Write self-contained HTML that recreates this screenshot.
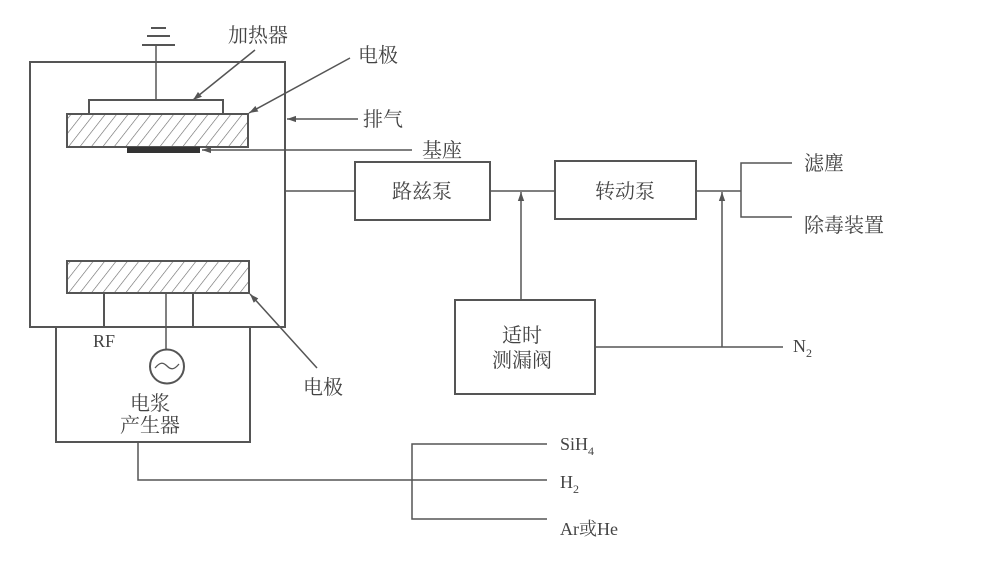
<!DOCTYPE html>
<html>
<head>
<meta charset="utf-8">
<style>
html,body{margin:0;padding:0;background:#fff;}
svg{display:block;}
.cn{font-family:"Liberation Serif","Noto Serif CJK SC",serif;font-size:20px;fill:#444;}
.lt{font-family:"Liberation Serif","Noto Serif CJK SC",serif;font-size:18px;fill:#444;}
</style>
</head>
<body>
<svg width="989" height="569" viewBox="0 0 989 569" xmlns="http://www.w3.org/2000/svg">
<defs>
<pattern id="hatch" patternUnits="userSpaceOnUse" width="9" height="9" patternTransform="rotate(38)">
<line x1="0" y1="0" x2="0" y2="9" stroke="#666" stroke-width="1.2"/>
</pattern>
<marker id="ah" viewBox="0 0 10 10" refX="10" refY="5" markerWidth="9" markerHeight="9" orient="auto-start-reverse" markerUnits="userSpaceOnUse">
<path d="M0,1.5 L10,5 L0,8.5 Z" fill="#555"/>
</marker>
</defs>
<rect width="989" height="569" fill="#fff"/>
<g stroke="#555" fill="none" stroke-width="2">
<!-- outer chamber -->
<rect x="30" y="62" width="255" height="265"/>
<!-- ground symbol -->
<line x1="151" y1="28" x2="166" y2="28"/>
<line x1="147" y1="36" x2="170" y2="36"/>
<line x1="142" y1="45" x2="175" y2="45"/>
<line x1="156" y1="45" x2="156" y2="100" stroke-width="1.5"/>
<!-- heater -->
<rect x="89" y="100" width="134" height="14"/>
<!-- upper electrode -->
<rect x="67" y="114" width="181" height="33" fill="url(#hatch)"/>
<!-- substrate -->
<rect x="127" y="147" width="73" height="6" fill="#333" stroke="none"/>
<!-- lower electrode -->
<rect x="67" y="261" width="182" height="32" fill="url(#hatch)"/>
<line x1="104" y1="293" x2="104" y2="327"/>
<line x1="193" y1="293" x2="193" y2="327"/>
<line x1="166" y1="293" x2="166" y2="349" stroke-width="1.5"/>
<circle cx="167" cy="366.5" r="17"/>
<!-- plasma generator box -->
<rect x="56" y="327" width="194" height="115"/>
<!-- pumps -->
<rect x="355" y="162" width="135" height="58"/>
<rect x="555" y="161" width="141" height="58"/>
<rect x="455" y="300" width="140" height="94"/>
</g>
<!-- sine in circle -->
<path d="M155,368 C160,362 163,362 167,366 C171,370 174,370 179,364" stroke="#555" stroke-width="1.3" fill="none"/>
<g stroke="#555" fill="none" stroke-width="1.5">
<!-- label arrows -->
<line x1="255" y1="50" x2="193" y2="100" marker-end="url(#ah)"/>
<line x1="350" y1="58" x2="249" y2="113" marker-end="url(#ah)"/>
<line x1="358" y1="119" x2="287" y2="119" marker-end="url(#ah)"/>
<line x1="412" y1="150" x2="202" y2="150" marker-end="url(#ah)"/>
<line x1="317" y1="368" x2="250" y2="294" marker-end="url(#ah)"/>
<!-- pump connections -->
<line x1="285" y1="191" x2="355" y2="191"/>
<line x1="490" y1="191" x2="555" y2="191"/>
<line x1="521" y1="300" x2="521" y2="192" marker-end="url(#ah)"/>
<line x1="696" y1="191" x2="741" y2="191"/>
<line x1="722" y1="347" x2="722" y2="192" marker-end="url(#ah)"/>
<polyline points="792,163 741,163 741,217 792,217"/>
<line x1="595" y1="347" x2="783" y2="347"/>
<!-- gas lines -->
<polyline points="138,442 138,480 547,480"/>
<polyline points="547,444 412,444 412,519 547,519"/>
</g>
<!-- labels -->
<text class="cn" x="228" y="42">加热器</text>
<text class="cn" x="358" y="62">电极</text>
<text class="cn" x="363" y="126">排气</text>
<text class="cn" x="422" y="157">基座</text>
<text class="cn" x="422" y="198" text-anchor="middle">路兹泵</text>
<text class="cn" x="625" y="198" text-anchor="middle">转动泵</text>
<text class="cn" x="804" y="170">滤塵</text>
<text class="cn" x="804" y="232">除毒装置</text>
<text class="cn" x="522" y="342" text-anchor="middle">适时</text>
<text class="cn" x="522" y="367" text-anchor="middle">测漏阀</text>
<text class="lt" x="793" y="352">N<tspan font-size="12" dy="5">2</tspan></text>
<text class="lt" x="93" y="347">RF</text>
<text class="cn" x="303" y="394">电极</text>
<text class="cn" x="150" y="410" text-anchor="middle">电浆</text>
<text class="cn" x="150" y="432" text-anchor="middle">产生器</text>
<text class="lt" x="560" y="450">SiH<tspan font-size="12" dy="5">4</tspan></text>
<text class="lt" x="560" y="488">H<tspan font-size="12" dy="5">2</tspan></text>
<text class="lt" x="560" y="535">Ar或He</text>
</svg>
</body>
</html>
